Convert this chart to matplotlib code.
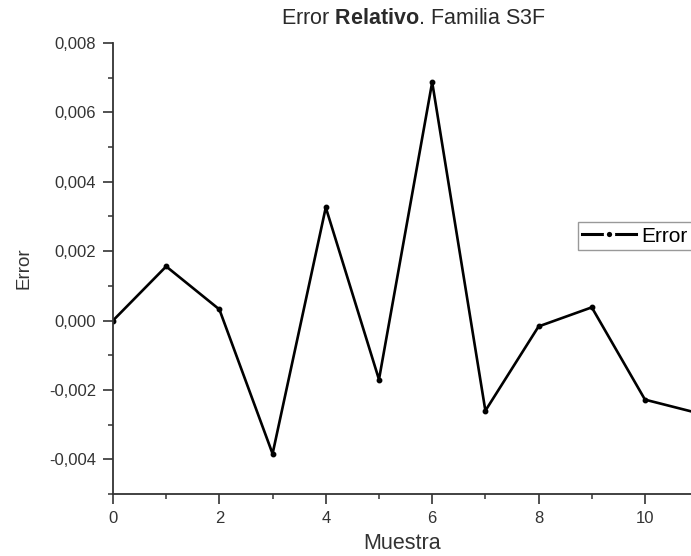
import matplotlib
matplotlib.use('Agg')
import matplotlib.pyplot as plt
from matplotlib.lines import Line2D
from matplotlib.ticker import MultipleLocator, FuncFormatter

plt.rcParams['font.family'] = ['Liberation Sans', 'DejaVu Sans']
plt.rcParams['mathtext.fontset'] = 'custom'
plt.rcParams['mathtext.rm'] = 'Liberation Sans'
plt.rcParams['mathtext.bf'] = 'Liberation Sans:bold'

muestra = [0, 1, 2, 3, 4, 5, 6, 7, 8, 9, 10, 11]
error = [0.0, 0.00156, 0.00032, -0.00384, 0.00326, -0.0017,
         0.00687, -0.0026, -0.00017, 0.00038, -0.00228, -0.00267]

x_ticks = [0, 2, 4, 6, 8, 10]
y_ticks = [-0.004, -0.002, 0.0, 0.002, 0.004, 0.006, 0.008]


def comma_fmt(v, pos):
    return f'{v:.3f}'.replace('.', ',').replace('-0,000', '0,000')


fig = plt.figure(figsize=(6.91, 5.56), dpi=100)
ax = fig.add_axes([0.1635, 0.1115, 1 - 0.1635, 0.8112])

ax.plot(muestra, error, '-', color='black', lw=1.9, marker='o', ms=3.2)

ax.set_xlim(0, 10.865)
ax.set_ylim(-0.005, 0.008)
ax.set_xticks(x_ticks)
ax.set_yticks(y_ticks)
ax.xaxis.set_minor_locator(MultipleLocator(1))
ax.yaxis.set_minor_locator(MultipleLocator(0.001))
ax.yaxis.set_major_formatter(FuncFormatter(comma_fmt))

for side in ('top', 'right'):
    ax.spines[side].set_visible(False)
for side in ('left', 'bottom'):
    ax.spines[side].set_linewidth(1.3)
    ax.spines[side].set_color('#333333')
ax.tick_params(which='major', direction='out', length=7, width=1.2,
               labelsize=12, colors='#333333')
ax.tick_params(axis='y', which='major', pad=5)
ax.tick_params(axis='x', which='major', pad=5)
ax.tick_params(which='minor', direction='out', length=3.5, width=1.1,
               colors='#333333')

ax.set_xlabel('Muestra', fontsize=15.5, color='#333333', labelpad=5)
ax.set_ylabel('Error', fontsize=13.5, color='#333333', labelpad=12)

fig.text(0.599, 0.966, r'Error $\mathbf{Relativo}$. Familia S3F',
         ha='center', va='center', fontsize=15.5, color='#2a2a2a')

# legend handle: white ring around the dot leaves gaps in the line
handle = Line2D([], [], color='black', lw=2.2, marker='o', ms=6,
                markerfacecolor='black', markeredgecolor='white',
                markeredgewidth=2.2)
ax.legend([handle], ['Error'], loc='center left',
          bbox_to_anchor=(578 / 691, 1 - 236 / 556),
          bbox_transform=fig.transFigure, borderaxespad=0,
          fontsize=15, frameon=True, fancybox=False, edgecolor='#999999',
          handlelength=2.6, handletextpad=0.25, borderpad=0.2,
          numpoints=1, framealpha=1)

fig.savefig('out.png', dpi=100)
